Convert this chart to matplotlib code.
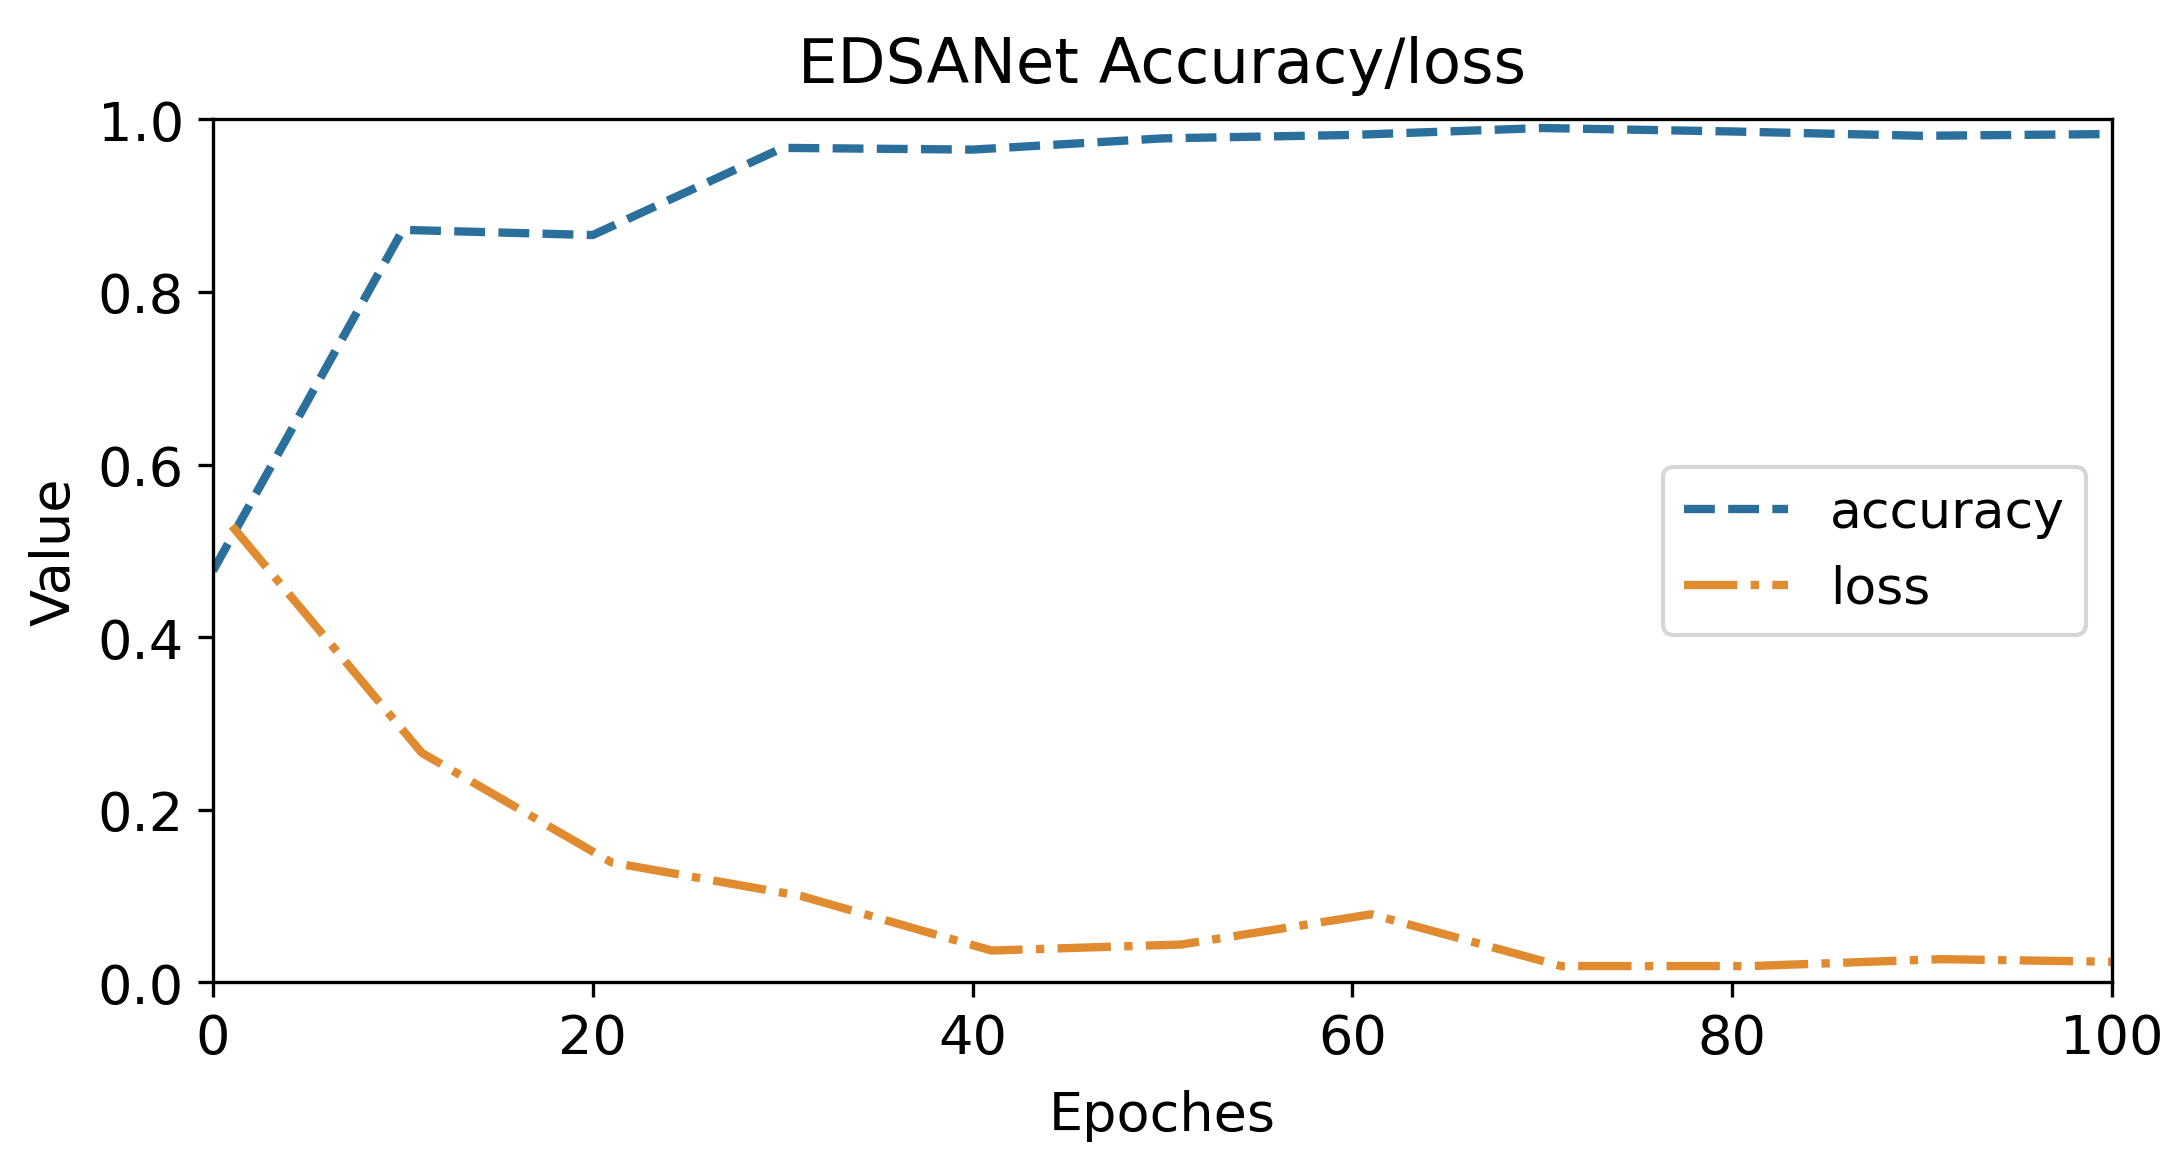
import matplotlib
matplotlib.use("Agg")
import matplotlib.pyplot as plt

# datos
epochs_acc = [0, 10, 20, 30, 40, 50, 60, 70, 80, 90, 100]
accuracy = [0.477, 0.872, 0.866, 0.967, 0.965, 0.978, 0.982, 0.990, 0.986, 0.981, 0.983]
epochs_loss = [1, 11, 21, 31, 41, 51, 61, 71, 81, 91, 100]
loss = [0.529, 0.266, 0.139, 0.100, 0.037, 0.044, 0.079, 0.019, 0.019, 0.027, 0.024]

fig, ax = plt.subplots(figsize=(7.28, 3.893), dpi=300)
fig.subplots_adjust(left=0.0975, right=0.967, top=0.897, bottom=0.158)

ax.plot(epochs_acc, accuracy, linestyle='--', color='#2b6f9c', lw=2.0, label='accuracy')
ax.plot(epochs_loss, loss, linestyle='-.', color='#e08b30', lw=2.0, label='loss')

ax.set_xlim(0, 100)
ax.set_ylim(0, 1.0)
ax.tick_params(labelsize=13)
ax.set_xlabel('Epoches', fontsize=13, labelpad=6)
ax.set_ylabel('Value', fontsize=13)
ax.set_title('EDSANet Accuracy/loss', fontsize=15, pad=9)
ax.legend(loc='center right', fontsize=12.5)

fig.savefig('out.png', dpi=300)
